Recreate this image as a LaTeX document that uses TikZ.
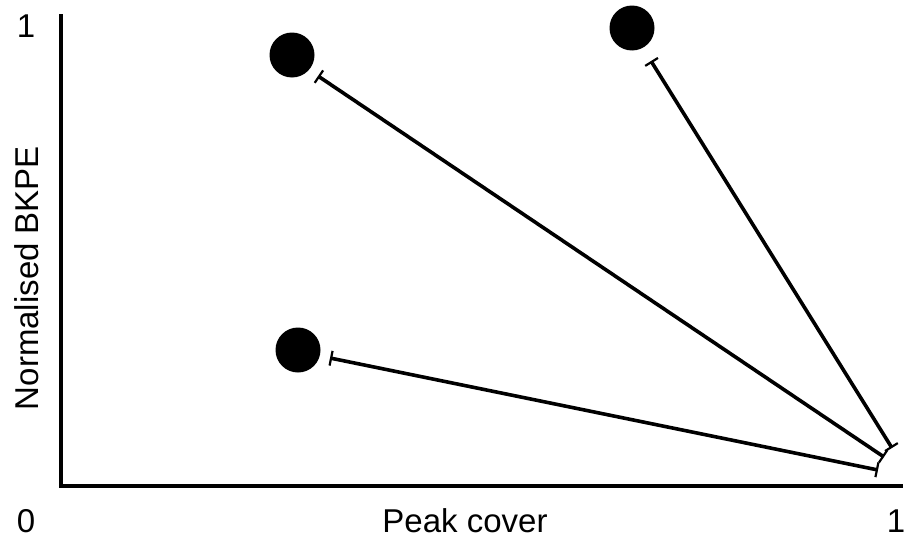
\documentclass[tikz,border=0pt]{standalone}
\usepackage{fontspec}
\setmainfont{Liberation Sans}
\usetikzlibrary{arrows.meta}
\begin{document}
\begin{tikzpicture}[x=1pt,y=-1pt,
  axis/.style={line width=3.6pt},
  lbl/.style={font=\fontsize{33}{39}\selectfont, inner sep=0pt},
  dot/.style={circle, fill=black, minimum size=45pt, inner sep=0pt},
  link/.style={line width=3.6pt, {Bar[width=15pt,line width=2.2pt]}-{Bar[width=15pt,line width=2.2pt]}}]
  \useasboundingbox (0,0) rectangle (905,538);
  % axes
  \coordinate (top) at (61,14);
  \coordinate (origin) at (61,486);
  \coordinate (right) at (903,486);
  \draw[axis] (top) -- (origin) -- (right);
  % axis labels
  \node[lbl] (ymax) at (26,26) {1};
  \node[lbl] (ymin) at (26,521) {0};
  \node[lbl] (xmax) at (896,521) {1};
  \node[lbl] (xlab) at (465,521) {Peak cover};
  \node[lbl, rotate=90] (ylab) at (27,278) {Normalised BKPE};
  % points
  \node[dot] (p1) at (292,55) {};
  \node[dot] (p2) at (632,28) {};
  \node[dot] (p3) at (298,350) {};
  % line ends
  \coordinate (s1) at (318,76);
  \coordinate (s2) at (651,61);
  \coordinate (s3) at (330,358);
  \coordinate (e1) at (884,457);
  \coordinate (e2) at (892,448);
  \coordinate (e3) at (878,470);
  \draw[link] (s1) -- (e1);
  \draw[link] (s2) -- (e2);
  \draw[link] (s3) -- (e3);
\end{tikzpicture}
\end{document}
